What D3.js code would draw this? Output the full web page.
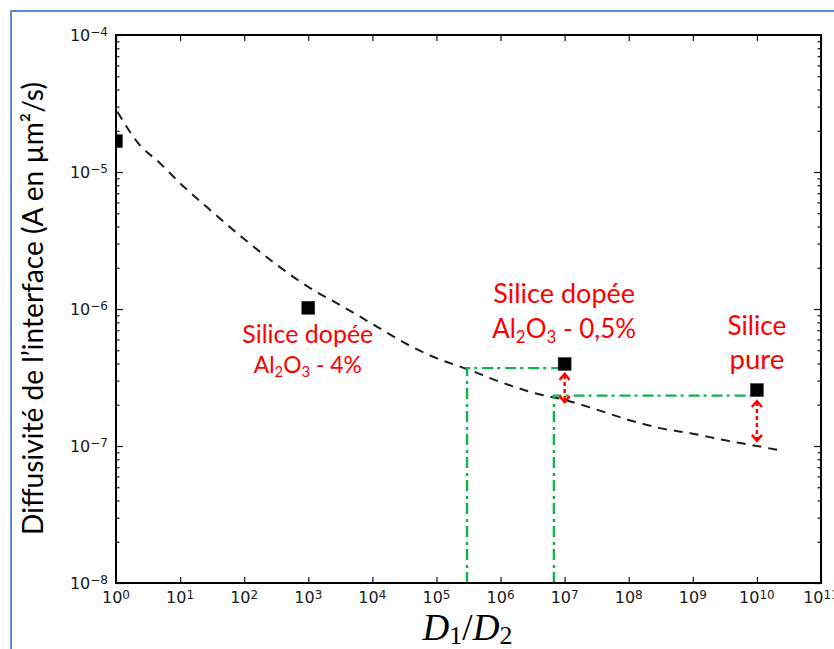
<!DOCTYPE html>
<html>
<head>
<meta charset="utf-8">
<script src="https://cdn.jsdelivr.net/npm/d3@7"></script>
<style>
html, body { margin: 0; padding: 0; background: #fff; overflow: hidden; }
</style>
</head>
<body>
<svg id="chart" width="834" height="649"></svg>
<script>
// ---------------- DATA ----------------
const xTickExponents = [0, 1, 2, 3, 4, 5, 6, 7, 8, 9, 10, 11];
const yTickExponents = [-4, -5, -6, -7, -8];

// measured points (black squares)
const pointRatio = [1, 1e3, 1e7, 1e10];
const pointDiffusivity = [1.68e-5, 1.02e-6, 3.97e-7, 2.56e-7];

// dashed model curve
const curveRatio = [1.05, 2.23, 4.86, 10, 27.5, 100, 1e3, 3740, 1e4, 4.1e4, 1e5, 3e5, 9.8e5, 3.45e6, 1e7, 3.1e7, 1e8, 3.1e8, 1e9, 3.2e9, 1e10, 2.57e10];
const curveDiffusivity = [2.75e-5, 1.62e-5, 1.16e-5, 8.28e-6, 5.43e-6, 3.24e-6, 1.45e-6, 1.02e-6, 7.78e-7, 5.31e-7, 4.38e-7, 3.65e-7, 2.94e-7, 2.43e-7, 2.17e-7, 1.85e-7, 1.55e-7, 1.35e-7, 1.23e-7, 1.10e-7, 1.0e-7, 9.2e-8];

// green dash-dot guides (corner on the curve, going to a measured point)
const guideRatio = [3.0e5, 6.8e6];
const guideDiffusivity = [3.7e-7, 2.33e-7];
const guideTargetRatio = [1e7, 1e10];

// red double arrows
const arrowRatio = [1e7, 1e10];
const arrowFrom = [3.36e-7, 2.13e-7];
const arrowTo = [2.09e-7, 1.09e-7];

// red annotations ({...} = subscript)
const noteRatio = [1e3, 1e7, 1e10];
const noteDiffusivity = [1.02e-6, 3.97e-7, 2.56e-7];
const noteLine1 = ["Silice dopée", "Silice dopée", "Silice"];
const noteLine2 = ["Al{2}O{3} - 4%", "Al{2}O{3} - 0,5%", "pure"];

const yAxisLabel = "Diffusivité de l\u2019interface (A en µm²/s)";

// ---------------- LAYOUT ----------------
const svg = d3.select("#chart");
const L = 116, T = 35, R = 821, B = 583;
const W = R - L, H = B - T;

const x = d3.scaleLog().domain([1, 1e11]).range([0, W]);
const y = d3.scaleLog().domain([1e-8, 1e-4]).range([H, 0]);

// outer blue frame (only left/top visible in the crop)
svg.append("rect")
  .attr("x", 11).attr("y", 11).attr("width", 1000).attr("height", 1000)
  .attr("fill", "none").attr("stroke", "#5b8bd2").attr("stroke-width", 2);

const g = svg.append("g").attr("transform", `translate(${L},${T})`);

g.append("clipPath").attr("id", "plotclip")
  .append("rect").attr("x", 0).attr("y", 0).attr("width", W).attr("height", H);

// ---------------- AXES / TICKS ----------------
const xMajor = xTickExponents.map(e => Math.pow(10, e));
const yMajor = yTickExponents.map(e => Math.pow(10, e));
const yMinor = [];
for (let e = -8; e < -4; e++) for (let k = 2; k <= 9; k++) yMinor.push(k * Math.pow(10, e));

function styleAxis(sel) {
  sel.select(".domain").remove();
  sel.selectAll(".tick line").attr("stroke", "#111").attr("stroke-width", 1.2);
  sel.selectAll(".tick text").remove();
}

g.append("g").attr("transform", `translate(0,${H})`)
  .call(d3.axisBottom(x).tickValues(xMajor).tickSizeInner(-6).tickSizeOuter(0).tickFormat(() => ""))
  .call(styleAxis);
g.append("g")
  .call(d3.axisTop(x).tickValues(xMajor).tickSizeInner(-6).tickSizeOuter(0).tickFormat(() => ""))
  .call(styleAxis);
g.append("g")
  .call(d3.axisLeft(y).tickValues(yMajor).tickSizeInner(-7).tickSizeOuter(0).tickFormat(() => ""))
  .call(styleAxis);
g.append("g")
  .call(d3.axisLeft(y).tickValues(yMinor).tickSizeInner(-3.5).tickSizeOuter(0).tickFormat(() => ""))
  .call(styleAxis);
g.append("g").attr("transform", `translate(${W},0)`)
  .call(d3.axisRight(y).tickValues(yMajor).tickSizeInner(-7).tickSizeOuter(0).tickFormat(() => ""))
  .call(styleAxis);
g.append("g").attr("transform", `translate(${W},0)`)
  .call(d3.axisRight(y).tickValues(yMinor).tickSizeInner(-3.5).tickSizeOuter(0).tickFormat(() => ""))
  .call(styleAxis);

function powerLabel(sel, exp) {
  sel.append("tspan").text("10");
  sel.append("tspan").attr("font-size", 12).attr("dy", -4.5)
    .text(exp < 0 ? "\u2212" + Math.abs(exp) : String(exp));
}

xTickExponents.forEach(e => {
  const t = g.append("text")
    .attr("x", x(Math.pow(10, e))).attr("y", H + 20)
    .attr("text-anchor", "middle")
    .attr("font-family", "DejaVu Sans").attr("font-size", 16).attr("fill", "#1a1a1a");
  powerLabel(t, e);
});
yTickExponents.forEach(e => {
  const t = g.append("text")
    .attr("x", -8).attr("y", y(Math.pow(10, e)) + 5.5)
    .attr("text-anchor", "end")
    .attr("font-family", "DejaVu Sans").attr("font-size", 16).attr("fill", "#1a1a1a");
  powerLabel(t, e);
});

// ---------------- MARKS ----------------
const plot = g.append("g").attr("clip-path", "url(#plotclip)");

// dashed curve
const curvePts = curveRatio.map((r, i) => [x(r), y(curveDiffusivity[i])]);
plot.append("path")
  .attr("d", d3.line().curve(d3.curveMonotoneX)(curvePts))
  .attr("fill", "none").attr("stroke", "#1c1c1c").attr("stroke-width", 2)
  .attr("stroke-dasharray", "9,7");

// green guides
const half = 6.5;
guideRatio.forEach((r, i) => {
  const gx = x(r), gy = y(guideDiffusivity[i]);
  const tx = x(guideTargetRatio[i]) - half;
  plot.append("path")
    .attr("d", `M${gx},${H}L${gx},${gy}L${tx},${gy}`)
    .attr("fill", "none").attr("stroke", "#13b24f").attr("stroke-width", 2.4)
    .attr("stroke-dasharray", "11,4,3,5");
});

// points
plot.selectAll("rect.pt").data(pointRatio).enter().append("rect")
  .attr("class", "pt")
  .attr("x", d => x(d) - half)
  .attr("y", (d, i) => y(pointDiffusivity[i]) - half)
  .attr("width", 2 * half).attr("height", 2 * half)
  .attr("fill", "#000").attr("stroke", "#333").attr("stroke-width", 0.5);

// red double arrows
arrowRatio.forEach((r, i) => {
  const ax = x(r), y0 = y(arrowFrom[i]), y1 = y(arrowTo[i]);
  plot.append("line").attr("x1", ax).attr("x2", ax).attr("y1", y0 + 1).attr("y2", y1 - 1)
    .attr("stroke", "#ff0000").attr("stroke-width", 2.4).attr("stroke-dasharray", "4,3");
  plot.append("path").attr("d", `M${ax - 5},${y0 + 6}L${ax},${y0}L${ax + 5},${y0 + 6}`)
    .attr("fill", "none").attr("stroke", "#ff0000").attr("stroke-width", 2.4);
  plot.append("path").attr("d", `M${ax - 5},${y1 - 6}L${ax},${y1}L${ax + 5},${y1 - 6}`)
    .attr("fill", "none").attr("stroke", "#ff0000").attr("stroke-width", 2.4);
});

// ---------------- TEXT ----------------
function richText(sel, str, subScale, subDy) {
  const parts = str.split(/(\{[^}]*\})/).filter(s => s.length);
  let down = false;
  parts.forEach(p => {
    if (p.startsWith("{")) {
      sel.append("tspan").style("font-size", subScale + "em")
        .attr("dy", (subDy / subScale) + "em").text(p.slice(1, -1));
      down = true;
    } else {
      const t = sel.append("tspan").text(p);
      if (down) { t.attr("dy", (-subDy) + "em"); down = false; }
    }
  });
}
function fitWidth(sel, target) {
  const w = sel.node().getBBox().width;
  const fs = parseFloat(sel.attr("font-size"));
  sel.attr("font-size", fs * target / w);
}

// annotation layout: baselines relative to the point, target widths
const noteOffsets = [[35, 65], [-61, -26], [-55, -21]];
const noteCenterShift = [-0.5, -0.5, 0];
const noteWidths = [[131, 108], [142, 144], [59, 55]];
noteRatio.forEach((r, i) => {
  const cx = L + x(r) + noteCenterShift[i];
  const py = T + y(noteDiffusivity[i]);
  [noteLine1[i], noteLine2[i]].forEach((line, j) => {
    const t = svg.append("text")
      .attr("x", cx).attr("y", py + noteOffsets[i][j])
      .attr("text-anchor", "middle")
      .attr("font-family", "Lato, 'Noto Sans', sans-serif")
      .attr("font-size", 24).attr("fill", "#ff0000");
    richText(t, line, 0.65, 0.2);
    fitWidth(t, noteWidths[i][j]);
  });
});

// y axis label
const yl = svg.append("text")
  .attr("transform", `translate(43,${308.5}) rotate(-90)`)
  .attr("text-anchor", "middle")
  .attr("font-family", "Lato, 'Noto Sans', sans-serif")
  .attr("font-size", 24).attr("fill", "#000")
  .text(yAxisLabel);
fitWidth(yl, 453);

// x axis label: D_1/D_2
const xl = svg.append("text")
  .attr("x", L + W / 2 - 1).attr("y", 640)
  .attr("text-anchor", "middle")
  .attr("font-family", "'Liberation Serif', 'DejaVu Serif', serif")
  .attr("font-size", 32).attr("fill", "#000");
xl.append("tspan").attr("font-style", "italic").text("D");
xl.append("tspan").style("font-size", "0.7em").attr("dy", "0.16em").text("1");
xl.append("tspan").attr("dy", "-0.112em").text("/");
xl.append("tspan").attr("font-style", "italic").text("D");
xl.append("tspan").style("font-size", "0.7em").attr("dy", "0.16em").text("2");
fitWidth(xl, 91);

// plot frame
g.append("rect").attr("x", 0).attr("y", 0).attr("width", W).attr("height", H)
  .attr("fill", "none").attr("stroke", "#000").attr("stroke-width", 2);
</script>
</body>
</html>
